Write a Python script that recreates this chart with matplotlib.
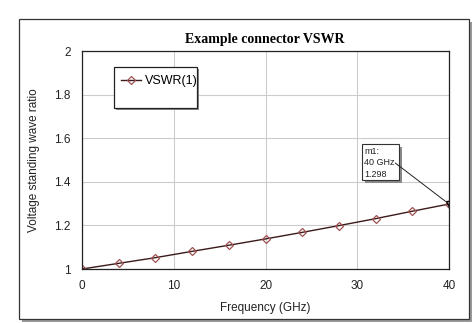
import matplotlib
matplotlib.use("Agg")
import matplotlib.pyplot as plt
from matplotlib.patches import Rectangle

# data
freq_ghz = [0, 4, 8, 12, 16, 20, 24, 28, 32, 36, 40]
vswr = [1.000, 1.026, 1.052, 1.081, 1.109, 1.138, 1.168, 1.199, 1.231, 1.265, 1.298]
x_ticks = [0, 10, 20, 30, 40]
y_ticks = [1, 1.2, 1.4, 1.6, 1.8, 2]
marker_label = "m1:\n40 GHz\n1.298"

plt.rcParams['font.family'] = ['Liberation Sans', 'DejaVu Sans']

fig = plt.figure(figsize=(4.74, 3.23), dpi=100)
W, H = 474.0, 323.0

# outer frame with grey shadow
fig.patches.append(Rectangle((22 / W, 1 - 322 / H), 450 / W, 300 / H,
                             transform=fig.transFigure, facecolor='#9a9a9a',
                             edgecolor='none', zorder=0))
fig.patches.append(Rectangle((19 / W, 1 - 319 / H), 450 / W, 300 / H,
                             transform=fig.transFigure, facecolor='white',
                             edgecolor='#333333', lw=0.9, zorder=1))

ax = fig.add_axes([82 / W, 1 - 269 / H, 367 / W, 218 / H], zorder=2)
ax.plot(freq_ghz, vswr, color='#3a1a1a', lw=1.0, marker='D', ms=4.5,
        mfc='none', mec='#a05050', mew=0.9, label='VSWR(1)')
ax.plot([freq_ghz[-1]], [vswr[-1]], marker='v', ms=5, mfc='none',
        mec='black', mew=0.9, ls='none')

ax.set_xlim(0, 40)
ax.set_ylim(1, 2)
ax.set_xticks(x_ticks)
ax.set_yticks(y_ticks)
ax.set_yticklabels(['1', '1.2', '1.4', '1.6', '1.8', '2'])
ax.grid(True, color='#cccccc', lw=0.8)
ax.set_axisbelow(True)
ax.tick_params(length=0, labelsize=8.5, colors='#222222', pad=8)
for s in ax.spines.values():
    s.set_linewidth(0.9)
    s.set_color('#222222')

ax.set_xlabel('Frequency (GHz)', fontsize=8.5, color='#222222', labelpad=7)
ax.set_ylabel('Voltage standing wave ratio', fontsize=8.5, color='#222222', labelpad=10)
fig.text(265 / W, 1 - 39 / H, 'Example connector VSWR', ha='center', va='center',
         fontsize=10, fontweight='bold', family='Liberation Serif')

# legend box with shadow
ax.add_patch(Rectangle((0.092, 0.729), 0.226, 0.188, transform=ax.transAxes,
                       facecolor='#8a8a8a', edgecolor='none', zorder=3))
ax.add_patch(Rectangle((0.087, 0.739), 0.226, 0.188, transform=ax.transAxes,
                       facecolor='white', edgecolor='#222222', lw=0.9, zorder=4))
leg = ax.legend(loc='upper left', bbox_to_anchor=(0.075, 0.94), frameon=False,
                fontsize=9, handlelength=1.6, handletextpad=0.3)
leg.set_zorder(5)

# marker annotation: box with shadow, text, leader line to the marker
bx, by, bw, bh = 30.52, 1.408, 4.03, 0.165
ax.add_patch(Rectangle((bx + 0.33, by - 0.014), bw, bh, facecolor='#8a8a8a',
                       edgecolor='none', zorder=5))
ax.add_patch(Rectangle((bx, by), bw, bh, facecolor='white', edgecolor='#333333',
                       lw=0.8, zorder=6))
ax.text(bx + 0.22, by + bh - 0.012, marker_label, fontsize=6.5, va='top', ha='left',
        linespacing=1.35, color='#222222', zorder=7)
ax.annotate('', xy=(40, vswr[-1]), xytext=(34.15, 1.486),
            arrowprops=dict(arrowstyle='-', color='#222222', lw=0.7,
                            shrinkA=0, shrinkB=3), zorder=7)

fig.savefig('out.png', dpi=100)
